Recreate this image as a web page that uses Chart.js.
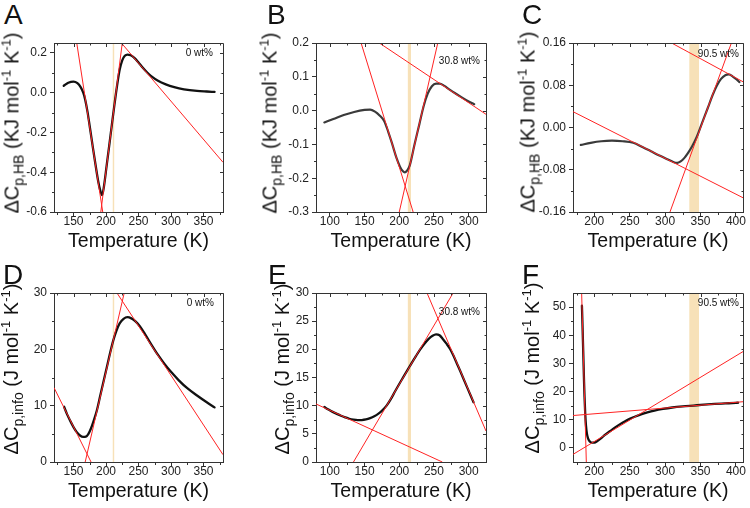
<!DOCTYPE html>
<html><head><meta charset="utf-8">
<script src="https://cdn.jsdelivr.net/npm/chart.js@4.4.1/dist/chart.umd.min.js"></script>
<style>
html,body{margin:0;padding:0;background:#fff;overflow:hidden;}
#wrap{position:relative;width:750px;height:508px;overflow:hidden;background:#fff;font-family:"Liberation Sans",Arial,Helvetica,sans-serif;color:#111;}
#wrap canvas{position:absolute;}
.letter{position:absolute;font-size:28px;line-height:28px;color:#111;}
.ytitle{position:absolute;font-size:20px;line-height:20px;white-space:nowrap;transform:translate(-50%,-50%) rotate(-90deg);color:#111;}
.ytitle .sb{font-size:14px;position:relative;top:5px;}
.ytitle .sp{font-size:13px;position:relative;top:-8px;}
.note{position:absolute;font-size:10px;line-height:10px;white-space:nowrap;transform:translate(-100%,-50%);color:#111;}
</style></head><body><div id="wrap"></div>
<script>
// ---------------- data ----------------
// Panel A : dCp,HB , 0 wt%
const A_T = [135,142,150,156,161,165,168,171.5,175,180,184,188,191,194,197,201,205,209,213,217,221,225,229,233,238,244,250,256,263,270,280,292,305,320,340,355,367];
const A_V = [0.035,0.05,0.056,0.048,0.028,0.0,-0.035,-0.095,-0.17,-0.28,-0.365,-0.445,-0.49,-0.515,-0.468,-0.367,-0.265,-0.162,-0.06,0.035,0.115,0.163,0.186,0.192,0.188,0.174,0.152,0.128,0.103,0.082,0.06,0.042,0.028,0.017,0.009,0.006,0.004];
const A_LINES = [[155,0.25,195,-0.6],[192,-0.6,225,0.25],[225,0.245,380,-0.35]];
const A_BAND = [210,213];
const A_XTICKS = ['150','200','250','300','350'];
const A_YTICKS = ['-0.6','-0.4','-0.2','0.0','0.2'];

// Panel B : dCp,HB , 30.8 wt%
const B_T = [92,105,120,135,150,158,165,172,178,184,190,196,201,205,208,211,215,222,229,235,241,247,253,258,265,272,280,290,300,308];
const B_V = [-0.035,-0.025,-0.013,-0.004,0.002,0.003,-0.003,-0.015,-0.03,-0.062,-0.1,-0.14,-0.166,-0.179,-0.183,-0.178,-0.163,-0.1,-0.04,0.012,0.05,0.072,0.08,0.08,0.073,0.063,0.052,0.039,0.027,0.019];
const B_LINES = [[145,0.2,220,-0.3],[200,-0.3,255.5,0.2],[171.3,0.2,325,-0.011]];
const B_BAND = [212,217];
const B_XTICKS = ['100','150','200','250','300'];
const B_YTICKS = ['-0.3','-0.2','-0.1','0.0','0.1','0.2'];

// Panel C : dCp,HB , 90.5 wt%
const C_T = [181,195,210,225,240,255,268,280,292,303,311,317,322,327,332,338,345,352,360,367,373,379,385,390,396,401,405];
const C_V = [-0.033,-0.029,-0.026,-0.025,-0.026,-0.029,-0.037,-0.045,-0.053,-0.06,-0.065,-0.067,-0.064,-0.058,-0.049,-0.036,-0.017,0.008,0.036,0.061,0.079,0.092,0.099,0.1005,0.096,0.091,0.086];
const C_LINES = [[309.2,0.16,410,0.0866],[170,0.03,410,-0.133],[306.9,-0.16,393.6,0.16]];
const C_BAND = [334,348];
const C_XTICKS = ['200','250','300','350','400'];
const C_YTICKS = ['-0.16','-0.08','0.00','0.08','0.16'];

// Panel D : dCp,info , 0 wt%
const D_T = [135.5,140,145,150,155,160,165,169,173,177,181,186,191,196,201,206,211,216,221,227,233,239,245,252,260,270,280,290,300,312,325,340,355,367];
const D_V = [9.8,8.5,7.3,6.2,5.3,4.7,4.45,4.5,5.0,6.0,7.3,9.2,11.7,14.2,16.7,19.2,21.5,23.3,24.6,25.4,25.7,25.5,25.0,24.1,22.7,20.8,19.0,17.4,16.0,14.5,13.1,11.8,10.6,9.7];
const D_LINES = [[120,13.2,177,0],[168,0,228,30],[216.9,30,380,1.3]];
const D_BAND = [210,213];
const D_XTICKS = ['150','200','250','300','350'];
const D_YTICKS = ['0','10','20','30'];

// Panel E : dCp,info , 30.8 wt%
const E_T = [92,98,104,110,116,122,128,134,140,146,152,158,164,170,176,182,188,194,200,206,212,218,224,230,236,242,248,253,258,263,268,273,278,283,288,293,298,303,307];
const E_V = [9.75,9.3,8.9,8.55,8.22,7.93,7.68,7.52,7.44,7.45,7.55,7.78,8.12,8.6,9.22,10.05,11.2,12.55,13.85,15.1,16.35,17.6,18.8,19.95,20.95,21.8,22.4,22.65,22.5,21.8,21.0,20.1,18.9,17.5,16.1,14.65,13.2,11.75,10.6];
const E_LINES = [[80,10.3,262,0],[134,0,277.6,30],[240,30,325,5.5]];
const E_BAND = [212,217];
const E_XTICKS = ['100','150','200','250','300'];
const E_YTICKS = ['0','5','10','15','20','25','30'];

// Panel F : dCp,info , 90.5 wt%
const F_T = [182.6,183.2,183.8,184.4,185,185.6,186.3,187.2,188.3,189.7,191.5,194,197,200,204,209,215,222,229,236,243,250,258,266,275,285,297,310,325,340,355,370,385,400,403];
const F_V = [50.5,45.5,40,34.5,29,23.5,18,12.5,8,5,3.2,2.2,1.85,1.9,2.4,3.3,4.6,5.9,7.2,8.35,9.4,10.3,11.15,11.9,12.6,13.25,13.85,14.35,14.75,15.05,15.35,15.6,15.8,16.0,16.05];
const F_LINES = [[182.2,55,188.8,-5],[170,-2.3,410,34.2],[170,11.5,410,16.4]];
const F_BAND = [334,348];
const F_XTICKS = ['200','250','300','350','400'];
const F_YTICKS = ['0','10','20','30','40','50'];

const X_TITLE = 'Temperature (K)';
const Y_HB = 'ΔC<span class="sb">p,HB</span> (KJ mol<span class="sp">-1</span> K<span class="sp">-1</span>)';
const Y_INFO = 'ΔC<span class="sb">p,info</span> (J mol<span class="sp">-1</span> K<span class="sp">-1</span>)';

// ---------------- layout / style ----------------
const FONT = '"Liberation Sans", Arial, Helvetica, sans-serif';
Chart.defaults.font.family = FONT;
const AX = '#333';
const RED = '#ff2323';
const BAND_COLOR = '#f7e1b8';
const PT = 8, PR = 8, XH = 46;

const PANELS = [
  {id:'A', left:54, top:42, w:169, h:170, yw:54, x:[120,380], y:[-0.6,0.25], T:A_T, V:A_V, lines:A_LINES, band:A_BAND, xt:A_XTICKS, yt:A_YTICKS, col:'#111', lw:2.3, title:Y_HB, tx:13, ty:123, note:'0 wt%', nx:213, ny:53, lx:4, ly:1},
  {id:'B', left:316, top:42, w:170, h:170, yw:50, x:[80,325], y:[-0.3,0.2], T:B_T, V:B_V, lines:B_LINES, band:B_BAND, xt:B_XTICKS, yt:B_YTICKS, col:'#3a3a3a', lw:2.2, title:Y_HB, tx:271, ty:123, note:'30.8 wt%', nx:480, ny:61, lx:267, ly:1},
  {id:'C', left:573, top:42, w:170, h:170, yw:50, x:[170,410], y:[-0.16,0.16], T:C_T, V:C_V, lines:C_LINES, band:C_BAND, xt:C_XTICKS, yt:C_YTICKS, col:'#3a3a3a', lw:2.2, title:Y_HB, tx:529, ty:122, note:'90.5 wt%', nx:739, ny:54, lx:522, ly:1},
  {id:'D', left:54, top:292, w:169, h:170, yw:54, x:[120,380], y:[0,30], T:D_T, V:D_V, lines:D_LINES, band:D_BAND, xt:D_XTICKS, yt:D_YTICKS, col:'#111', lw:2.3, title:Y_INFO, tx:12, ty:369, note:'0 wt%', nx:214, ny:303, lx:3, ly:261},
  {id:'E', left:316, top:292, w:170, h:170, yw:50, x:[80,325], y:[0,30], T:E_T, V:E_V, lines:E_LINES, band:E_BAND, xt:E_XTICKS, yt:E_YTICKS, col:'#111', lw:2.3, title:Y_INFO, tx:283, ty:369, note:'30.8 wt%', nx:480, ny:312, lx:268, ly:261},
  {id:'F', left:573, top:292, w:170, h:170, yw:50, x:[170,410], y:[-5,55], T:F_T, V:F_V, lines:F_LINES, band:F_BAND, xt:F_XTICKS, yt:F_YTICKS, col:'#111', lw:2.3, title:Y_INFO, tx:533, ty:368, note:'90.5 wt%', nx:739, ny:303, lx:522, ly:261}
];

function minors(labels, lo, hi) {
  const m = labels.map(parseFloat);
  const st = m[1] - m[0];
  const out = [];
  for (let k = 0; k <= m.length; k++) {
    const v = +(m[0] - st / 2 + k * st).toFixed(6);
    if (v > lo + 1e-9 && v < hi - 1e-9) out.push(v);
  }
  return out;
}

const framePlugin = {
  id: 'frame',
  afterDraw(chart, args, o) {
    const {ctx, chartArea: a} = chart;
    const xs = chart.scales.x, ys = chart.scales.y;
    const L = a.left + 0.5, R = a.right + 0.5, T = a.top + 0.5, B = a.bottom + 0.5;
    ctx.save();
    ctx.strokeStyle = AX; ctx.lineWidth = 1;
    ctx.beginPath();
    ctx.moveTo(L, T); ctx.lineTo(R, T); ctx.lineTo(R, B);
    for (const v of o.xMinor) { const p = Math.round(xs.getPixelForValue(v)) + 0.5; ctx.moveTo(p, B); ctx.lineTo(p, B + 2.5); ctx.moveTo(p, T); ctx.lineTo(p, T + 2); }
    for (const v of o.xMajor) { const p = Math.round(xs.getPixelForValue(v)) + 0.5; ctx.moveTo(p, T); ctx.lineTo(p, T + 3.5); }
    for (const v of o.yMinor) { const p = Math.round(ys.getPixelForValue(v)) + 0.5; ctx.moveTo(L - 2.5, p); ctx.lineTo(L, p); ctx.moveTo(R, p); ctx.lineTo(R - 2, p); }
    for (const v of o.yMajor) { const p = Math.round(ys.getPixelForValue(v)) + 0.5; ctx.moveTo(R, p); ctx.lineTo(R - 3.5, p); }
    ctx.stroke();
    ctx.restore();
  }
};

const wrap = document.getElementById('wrap');

PANELS.forEach(P => {
  const cv = document.createElement('canvas');
  const cw = P.yw + P.w + PR, ch = PT + P.h + XH;
  cv.width = cw; cv.height = ch;
  cv.style.left = (P.left - P.yw) + 'px';
  cv.style.top = (P.top - PT) + 'px';
  cv.style.width = cw + 'px'; cv.style.height = ch + 'px';
  wrap.appendChild(cv);

  const datasets = [];
  P.lines.forEach(l => datasets.push({
    data: [{x: l[0], y: l[1]}, {x: l[2], y: l[3]}],
    borderColor: RED, borderWidth: 1, tension: 0, pointRadius: 0, fill: false
  }));
  datasets.push({
    data: P.T.map((t, i) => ({x: t, y: P.V[i]})),
    borderColor: P.col, borderWidth: P.lw, cubicInterpolationMode: 'monotone',
    pointRadius: 0, fill: false, borderCapStyle: 'round', borderJoinStyle: 'round'
  });
  datasets.push({
    data: [{x: P.band[0], y: P.y[1]}, {x: P.band[1], y: P.y[1]}],
    borderColor: 'rgba(0,0,0,0)', borderWidth: 1, pointRadius: 0,
    fill: 'start', backgroundColor: BAND_COLOR
  });

  const xMajor = P.xt.map(parseFloat), yMajor = P.yt.map(parseFloat);

  new Chart(cv, {
    type: 'line',
    data: {datasets},
    plugins: [framePlugin],
    options: {
      responsive: false, animation: false, devicePixelRatio: 1,
      layout: {padding: {left: 0, top: PT, right: PR, bottom: 0}},
      events: [],
      plugins: {
        legend: {display: false}, tooltip: {enabled: false},
        frame: {xMinor: minors(P.xt, P.x[0], P.x[1]), yMinor: minors(P.yt, P.y[0], P.y[1]), xMajor, yMajor}
      },
      scales: {
        x: {
          type: 'linear', min: P.x[0], max: P.x[1],
          afterBuildTicks: s => { s.ticks = xMajor.map(v => ({value: v})); },
          afterFit: s => { s.height = XH; },
          ticks: {callback: (v, i) => P.xt[i], autoSkip: false, maxRotation: 0, padding: 0,
                  font: {size: 12, family: FONT, lineHeight: 1}, color: '#222'},
          grid: {drawOnChartArea: false, drawTicks: true, tickLength: 4, color: AX, tickColor: AX},
          border: {display: true, color: AX, width: 1},
          title: {display: true, text: X_TITLE, color: '#111',
                  font: {size: 19.5, family: FONT, lineHeight: 1.2}, padding: {top: 0, bottom: 5}}
        },
        y: {
          type: 'linear', min: P.y[0], max: P.y[1],
          afterBuildTicks: s => { s.ticks = yMajor.map(v => ({value: v})); },
          afterFit: s => { s.width = P.yw; },
          ticks: {callback: (v, i) => P.yt[i], autoSkip: false, padding: 3,
                  font: {size: 12, family: FONT, lineHeight: 1}, color: '#222'},
          grid: {drawOnChartArea: false, drawTicks: true, tickLength: 4, color: AX, tickColor: AX},
          border: {display: true, color: AX, width: 1}
        }
      }
    }
  });

  const lt = document.createElement('div');
  lt.className = 'letter'; lt.textContent = P.id;
  lt.style.left = P.lx + 'px'; lt.style.top = P.ly + 'px';
  wrap.appendChild(lt);

  const yt = document.createElement('div');
  yt.className = 'ytitle'; yt.innerHTML = P.title;
  yt.style.left = P.tx + 'px'; yt.style.top = P.ty + 'px';
  wrap.appendChild(yt);

  const nt = document.createElement('div');
  nt.className = 'note'; nt.textContent = P.note;
  nt.style.left = P.nx + 'px'; nt.style.top = P.ny + 'px';
  wrap.appendChild(nt);
});
</script></body></html>
